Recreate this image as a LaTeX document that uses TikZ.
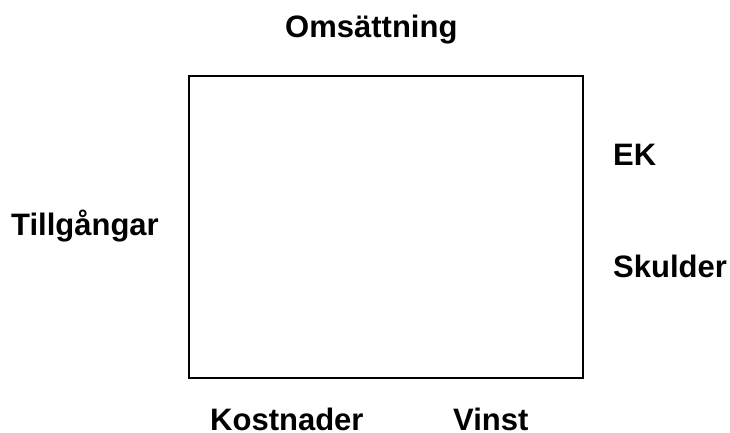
\documentclass[tikz,border=0pt]{standalone}
\usepackage{fontspec}
\setmainfont{Liberation Sans}
\begin{document}
\begin{tikzpicture}[x=1pt,y=-1pt,
  lbl/.style={font=\fontsize{31}{36}\selectfont\bfseries, inner sep=0pt, anchor=base west}]
\useasboundingbox (0,0) rectangle (730,432);
\node[draw, line width=2pt, minimum width=394pt, minimum height=302pt, inner sep=0pt, anchor=north west] (box) at (188,75) {};
\node[lbl] (oms) at (285,37) {Omsättning};
\node[lbl] (till) at (11,235) {Tillgångar};
\node[lbl] (ek) at (613,165) {EK};
\node[lbl] (sku) at (613,277) {Skulder};
\node[lbl] (kos) at (210,430) {Kostnader};
\node[lbl] (vin) at (453,430) {Vinst};
\end{tikzpicture}
\end{document}
